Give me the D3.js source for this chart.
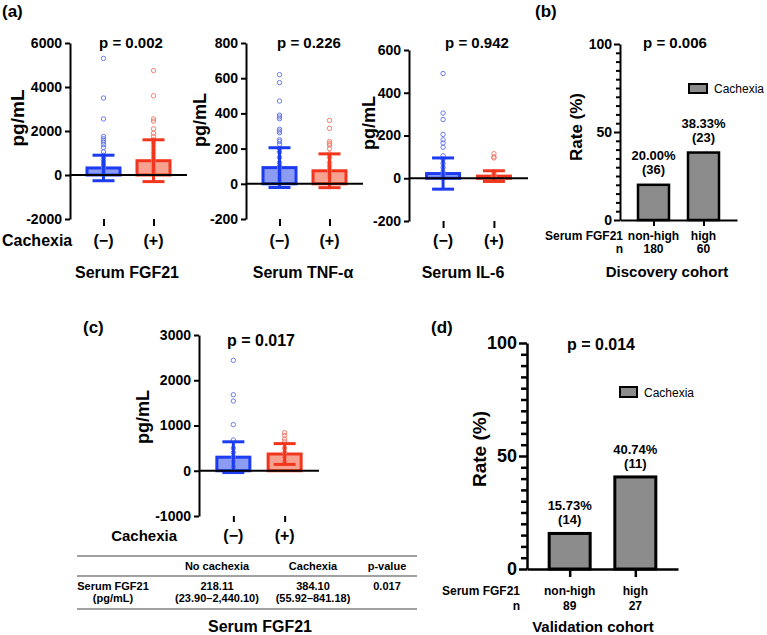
<!DOCTYPE html>
<html>
<head>
<meta charset="utf-8">
<script src="https://cdn.jsdelivr.net/npm/d3@7"></script>
<style>
  body { margin: 0; background: #fff; }
  svg { display: block; }
</style>
</head>
<body>
<div id="chart"></div>
<script>
// ---- data ----
const groups = ['(−)', '(+)'];

// (a) serum markers, mean and SD per group, individual points
const fgf21Mean = [320, 650];
const fgf21Sd = [580, 950];
const fgf21DotsNeg = [5300, 3500, 2550, 1750, 1650, 1580, 1500, 1380, 1250, 1050, 900, 800, 700, 600, 500, 400, 300, 200, 150, 100, 60, 30];
const fgf21DotsPos = [4750, 3600, 2550, 2450, 2100, 1900, 1750, 1600, 1450, 1300, 1150, 1000, 850, 700, 550, 400, 250, 120, 50];

const tnfMean = [92, 74];
const tnfSd = [113, 96];
const tnfDotsNeg = [620, 575, 470, 390, 380, 370, 310, 300, 290, 250, 240, 225, 200, 180, 150, 120, 100, 80, 60, 40, 20];
const tnfDotsPos = [360, 315, 240, 230, 220, 200, 170, 150, 120, 100, 80, 60, 40];

const il6Mean = [22, 10];
const il6Sd = [73, 25];
const il6DotsNeg = [490, 305, 275, 205, 180, 165, 145, 105, 90, 70, 50, 30, 20, 10];
const il6DotsPos = [115, 100, 95, 30, 20, 10, 5];

// (c) validation FGF21
const valMean = [300, 370];
const valSd = [340, 230];
const valDotsNeg = [2440, 1680, 1540, 1020, 680, 500, 400, 300, 200, 100, 50];
const valDotsPos = [840, 780, 700, 640, 500, 400, 300, 200];

// (b) / (d) cachexia rate by FGF21 level
const levels = ['non-high', 'high'];
const discoveryRate = [20.00, 38.33];
const discoveryCount = [36, 23];
const discoveryN = [180, 60];
const validationRate = [15.73, 40.74];
const validationCount = [14, 11];
const validationN = [89, 27];

// table under (c)
const tableHeader = ['', 'No cachexia', 'Cachexia', 'p-value'];
const tableRow1 = ['Serum FGF21', '218.11', '384.10', '0.017'];
const tableRow2 = ['(pg/mL)', '(23.90–2,440.10)', '(55.92–841.18)', ''];

// ---- drawing ----
const FONT = 'Arial, "Liberation Sans", Helvetica, sans-serif';
const strokeCol = ['#1c3cf2', '#f2361e'];
const fillCol = ['#8d9cf3', '#f7a191'];
const dotCol = ['#6b7ded', '#f0806f'];

const svg = d3.select('#chart').append('svg')
  .attr('width', 767)
  .attr('height', 635)
  .style('font-family', FONT);

function label(x, y, text, size, opts = {}) {
  return svg.append('text')
    .attr('x', x)
    .attr('y', y)
    .attr('font-size', size)
    .attr('font-weight', opts.normal ? 'normal' : 'bold')
    .attr('text-anchor', opts.anchor || 'middle')
    .attr('fill', '#000')
    .text(text);
}

function styleAxis(ax, fontSize, width) {
  ax.select('.domain').attr('stroke', '#000').attr('stroke-width', width);
  ax.selectAll('.tick line').attr('stroke', '#000').attr('stroke-width', width);
  ax.selectAll('.tick text')
    .attr('font-size', fontSize)
    .attr('font-weight', 'bold')
    .attr('font-family', FONT)
    .attr('fill', '#000');
}

// plain integer labels with an ASCII hyphen, like the original
const plain = d => String(d);

function dotPanel(cfg) {
  const y = d3.scaleLinear().domain(cfg.domain).range([cfg.yBot, cfg.yTop]);
  const x = d3.scalePoint().domain(groups).range([cfg.x0, cfg.x1]).padding(0.67);
  const g = svg.append('g');
  const bw = 33, cap = 22;

  const ya = g.append('g')
    .attr('transform', `translate(${cfg.x0},0)`)
    .call(d3.axisLeft(y).tickValues(cfg.ticks).tickFormat(plain).tickSize(5).tickSizeOuter(0).tickPadding(3));
  styleAxis(ya, cfg.tickFont, 2);

  const xa = g.append('g')
    .attr('transform', `translate(0,${cfg.yBot})`)
    .call(d3.axisBottom(x).tickSize(cfg.xTick).tickFormat(''));
  xa.select('.domain').remove();
  xa.selectAll('.tick line').attr('stroke', '#000').attr('stroke-width', 2);

  groups.forEach((gr, i) => {
    const m = cfg.mean[i];
    g.append('rect')
      .attr('x', x(gr) - bw / 2)
      .attr('y', y(m))
      .attr('width', bw)
      .attr('height', y(0) - y(m))
      .attr('fill', fillCol[i])
      .attr('stroke', strokeCol[i])
      .attr('stroke-width', 3);
  });

  groups.forEach((gr, i) => {
    g.selectAll(null)
      .data(cfg.dots[i])
      .join('circle')
      .attr('cx', x(gr))
      .attr('cy', d => y(d))
      .attr('r', 2.2)
      .attr('fill', 'none')
      .attr('stroke', dotCol[i])
      .attr('stroke-width', 1);
  });

  groups.forEach((gr, i) => {
    const lo = y(cfg.mean[i] - cfg.sd[i]);
    const hi = y(cfg.mean[i] + cfg.sd[i]);
    const cx = x(gr);
    g.append('line').attr('x1', cx).attr('x2', cx).attr('y1', lo).attr('y2', hi)
      .attr('stroke', strokeCol[i]).attr('stroke-width', 3);
    [lo, hi].forEach(v => {
      g.append('line').attr('x1', cx - cap / 2).attr('x2', cx + cap / 2).attr('y1', v).attr('y2', v)
        .attr('stroke', strokeCol[i]).attr('stroke-width', 3);
    });
  });

  g.append('line')
    .attr('x1', cfg.x0).attr('x2', cfg.x1)
    .attr('y1', y(0)).attr('y2', y(0))
    .attr('stroke', '#000').attr('stroke-width', 2);

  // y title
  svg.append('text')
    .attr('transform', `translate(${cfg.yTitleX},${cfg.yTitleY}) rotate(-90)`)
    .attr('text-anchor', 'middle')
    .attr('font-size', cfg.yTitleFont)
    .attr('font-weight', 'bold')
    .text('pg/mL');

  label(cfg.pX, cfg.pY, cfg.p, cfg.pFont);
  if (cfg.catY) {
    groups.forEach(gr => label(x(gr), cfg.catY, gr, cfg.catFont));
  }
  return x;
}

function ratePanel(cfg) {
  const y = d3.scaleLinear().domain([0, 100]).range([cfg.yBot, cfg.yTop]);
  const x = d3.scalePoint().domain(levels).range([cfg.x0, cfg.x1]).padding(cfg.pad);
  const g = svg.append('g');

  const minor = g.append('g')
    .attr('transform', `translate(${cfg.x0},0)`)
    .call(d3.axisLeft(y).tickValues(d3.range(0, 101, 5).filter(v => v % 50 !== 0)).tickSize(cfg.minorTick).tickFormat(''));
  minor.select('.domain').remove();
  minor.selectAll('.tick line').attr('stroke', '#000').attr('stroke-width', cfg.axisW);

  const ya = g.append('g')
    .attr('transform', `translate(${cfg.x0},0)`)
    .call(d3.axisLeft(y).tickValues([0, 50, 100]).tickFormat(plain).tickSize(cfg.majorTick).tickSizeOuter(0).tickPadding(2));
  styleAxis(ya, cfg.tickFont, cfg.axisW);

  levels.forEach((lv, i) => {
    const v = cfg.rate[i];
    g.append('rect')
      .attr('x', x(lv) - cfg.bw / 2)
      .attr('y', y(v))
      .attr('width', cfg.bw)
      .attr('height', y(0) - y(v))
      .attr('fill', '#8c8c8c')
      .attr('stroke', '#000')
      .attr('stroke-width', cfg.barW);
    label(x(lv), y(v) - cfg.pctOff, v.toFixed(2) + '%', 13);
    label(x(lv), y(v) - cfg.cntOff, '(' + cfg.count[i] + ')', 13);
  });

  const xa = g.append('g')
    .attr('transform', `translate(0,${cfg.yBot})`)
    .call(d3.axisBottom(x).tickSize(cfg.xTick).tickSizeOuter(0).tickFormat(''));
  xa.select('.domain').attr('stroke', '#000').attr('stroke-width', cfg.axisW);
  xa.selectAll('.tick line').attr('stroke', '#000').attr('stroke-width', cfg.axisW);

  svg.append('text')
    .attr('transform', `translate(${cfg.yTitleX},${cfg.yTitleY}) rotate(-90)`)
    .attr('text-anchor', 'middle')
    .attr('font-size', cfg.yTitleFont)
    .attr('font-weight', 'bold')
    .text('Rate (%)');

  label(cfg.pX, cfg.pY, cfg.p, cfg.pFont);

  // legend
  svg.append('rect')
    .attr('x', cfg.legX).attr('y', cfg.legY)
    .attr('width', cfg.legW).attr('height', cfg.legH)
    .attr('fill', '#8c8c8c').attr('stroke', '#000').attr('stroke-width', 2);
  label(cfg.legX + cfg.legW + 7, cfg.legY + cfg.legH, 'Cachexia', 12, { anchor: 'start', normal: true });

  // category rows
  label(cfg.rowLabelX, cfg.row1Y, 'Serum FGF21', 12, { anchor: 'end' });
  label(cfg.rowLabelX, cfg.row2Y, 'n', 12, { anchor: 'end' });
  levels.forEach((lv, i) => {
    label(x(lv), cfg.row1Y, lv, 12);
    label(x(lv), cfg.row2Y, String(cfg.n[i]), 12);
  });
  label(cfg.titleX, cfg.titleY, cfg.title, 15);
}

// ---- (a) ----
label(2, 17, '(a)', 17, { anchor: 'start' });

dotPanel({
  domain: [-2000, 6000], ticks: [-2000, 0, 2000, 4000, 6000],
  x0: 70, x1: 187, yTop: 43, yBot: 219, xTick: 7, tickFont: 14,
  mean: fgf21Mean, sd: fgf21Sd, dots: [fgf21DotsNeg, fgf21DotsPos],
  yTitleX: 24, yTitleY: 118, yTitleFont: 19,
  p: 'p = 0.002', pX: 131, pY: 48, pFont: 15,
  catY: 246, catFont: 16
});
label(2, 246, 'Cachexia', 16, { anchor: 'start' });
label(127, 278, 'Serum FGF21', 16);

dotPanel({
  domain: [-200, 800], ticks: [-200, 0, 200, 400, 600, 800],
  x0: 246, x1: 363, yTop: 43, yBot: 219, xTick: 7, tickFont: 14,
  mean: tnfMean, sd: tnfSd, dots: [tnfDotsNeg, tnfDotsPos],
  yTitleX: 206, yTitleY: 120, yTitleFont: 18,
  p: 'p = 0.226', pX: 309, pY: 48, pFont: 15,
  catY: 246, catFont: 16
});
label(303, 278, 'Serum TNF-α', 16);

dotPanel({
  domain: [-200, 600], ticks: [-200, 0, 200, 400, 600],
  x0: 409, x1: 528, yTop: 50, yBot: 221, xTick: 7, tickFont: 14,
  mean: il6Mean, sd: il6Sd, dots: [il6DotsNeg, il6DotsPos],
  yTitleX: 375, yTitleY: 123, yTitleFont: 18,
  p: 'p = 0.942', pX: 477, pY: 48, pFont: 15,
  catY: 246, catFont: 16
});
label(463, 278, 'Serum IL-6', 16);

// ---- (b) ----
label(535, 17, '(b)', 17, { anchor: 'start' });
ratePanel({
  x0: 620, x1: 737, pad: 0.67, yTop: 44, yBot: 220, bw: 31, barW: 2.5,
  rate: discoveryRate, count: discoveryCount, n: discoveryN,
  minorTick: 4, majorTick: 6, axisW: 2, tickFont: 14, xTick: 6,
  pctOff: 25, cntOff: 11,
  yTitleX: 582, yTitleY: 127, yTitleFont: 17,
  p: 'p = 0.006', pX: 675, pY: 48, pFont: 15,
  legX: 689, legY: 84, legW: 18, legH: 9,
  rowLabelX: 623, row1Y: 240, row2Y: 253,
  title: 'Discovery cohort', titleX: 667, titleY: 277
});

// ---- (c) ----
label(83, 333, '(c)', 17, { anchor: 'start' });
dotPanel({
  domain: [-1000, 3000], ticks: [-1000, 0, 1000, 2000, 3000],
  x0: 199, x1: 319, yTop: 335, yBot: 516, xTick: 6, tickFont: 14,
  mean: valMean, sd: valSd, dots: [valDotsNeg, valDotsPos],
  yTitleX: 149, yTitleY: 417, yTitleFont: 18,
  p: 'p = 0.017', pX: 261, pY: 346, pFont: 16,
  catY: 541, catFont: 16
});
label(177, 541, 'Cachexia', 15, { anchor: 'end' });

// summary table
const colX = [113, 217, 313, 387];
[556, 576, 609].forEach(yy => {
  svg.append('line').attr('x1', 77).attr('x2', 417).attr('y1', yy).attr('y2', yy)
    .attr('stroke', '#444').attr('stroke-width', 1.2);
});
tableHeader.forEach((t, i) => label(colX[i], 570, t, 11));
tableRow1.forEach((t, i) => label(colX[i], 590, t, 11));
tableRow2.forEach((t, i) => label(colX[i], 602, t, 11));
label(260, 632, 'Serum FGF21', 16);

// ---- (d) ----
label(431, 333, '(d)', 17, { anchor: 'start' });
ratePanel({
  x0: 527, x1: 678, pad: 0.65, yTop: 343, yBot: 569, bw: 41, barW: 3,
  rate: validationRate, count: validationCount, n: validationN,
  minorTick: 6, majorTick: 8, axisW: 2.5, tickFont: 18, xTick: 8,
  pctOff: 23, cntOff: 9,
  yTitleX: 486, yTitleY: 449, yTitleFont: 19,
  p: 'p = 0.014', pX: 601, pY: 350, pFont: 16,
  legX: 620, legY: 387, legW: 17, legH: 10,
  rowLabelX: 520, row1Y: 595, row2Y: 610,
  title: 'Validation cohort', titleX: 593, titleY: 632
});
</script>
</body>
</html>
